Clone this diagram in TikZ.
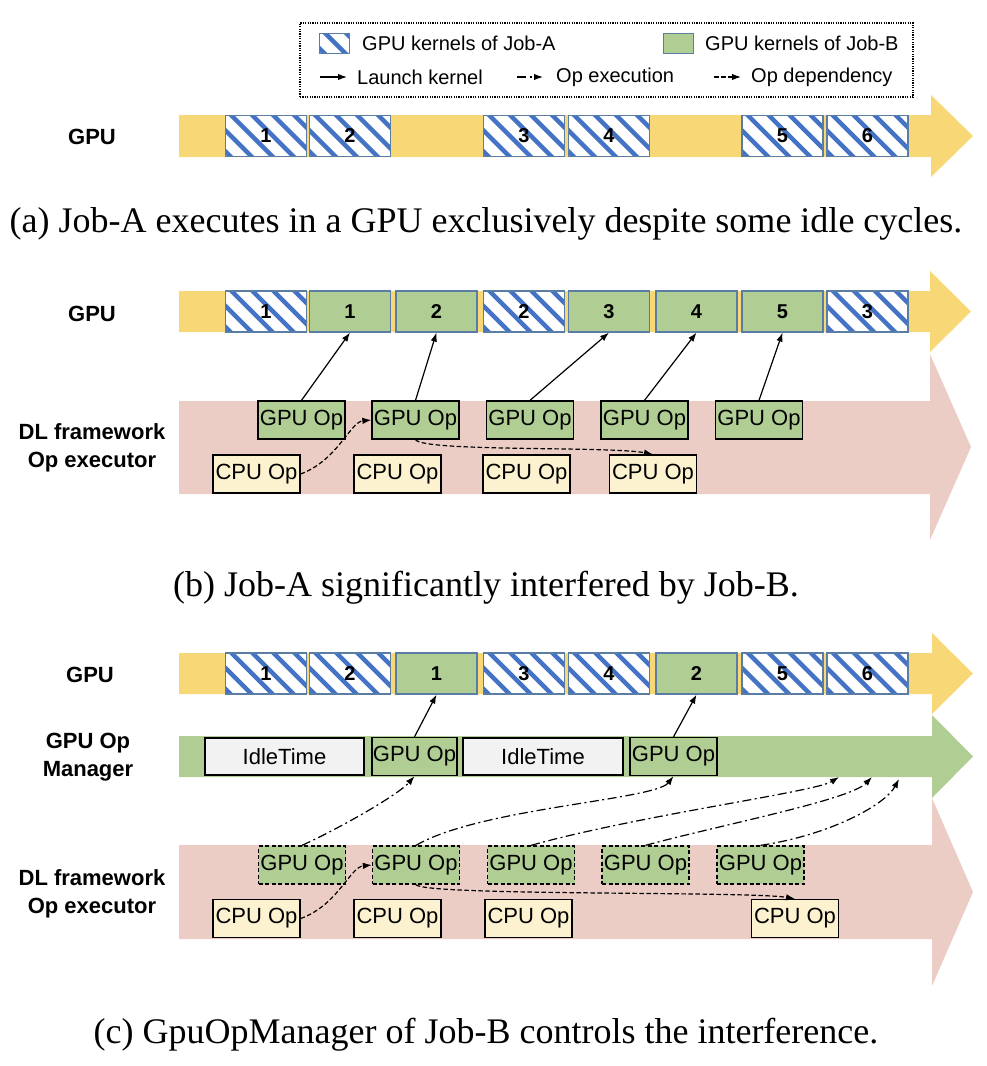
\documentclass[tikz,border=0pt]{standalone}
\usepackage{fontspec}
\setmainfont{Liberation Serif}
\setsansfont{Liberation Sans}
\usetikzlibrary{arrows.meta,calc}
\definecolor{barY}{HTML}{F8D776}
\definecolor{barP}{HTML}{ECCDC5}
\definecolor{barG}{HTML}{B0CE94}
\definecolor{kgreen}{HTML}{B0CE94}
\definecolor{kborder}{HTML}{5A7DA6}
\definecolor{hblue}{HTML}{4472C4}
\definecolor{cpuY}{HTML}{FDF2CF}
\definecolor{idleG}{HTML}{F2F2F2}
\newcommand\boxfont{\sffamily\fontsize{22}{24}\selectfont}
\newcommand\numfont{\sffamily\bfseries\fontsize{20}{22}\selectfont}
\newcommand\labfont{\sffamily\bfseries\fontsize{22}{28}\selectfont}
\newcommand\legfont{\sffamily\fontsize{20}{22}\selectfont}
\newcommand\capfont{\rmfamily\fontsize{36}{40}\selectfont}
\tikzset{
  hatchfill/.style={path picture={
    \foreach \i in {-3,...,5}{
      \draw[hblue,line width=4.5pt] ([xshift=\i*21pt-4pt,yshift=10pt]path picture bounding box.north west) -- ++(70pt,-70pt);
    }}},
  kern/.style={draw=kborder,line width=1.2pt,minimum width=81pt,minimum height=41pt,inner sep=0pt,font=\numfont},
  kA/.style={kern,fill=white,hatchfill},
  kB/.style={kern,fill=kgreen},
  opbox/.style={draw=black,line width=1.3pt,minimum width=87pt,minimum height=38pt,inner sep=0pt,font=\boxfont},
  gop/.style={opbox,fill=kgreen},
  gopd/.style={opbox,fill=kgreen,dash pattern=on 4pt off 2.5pt},
  cop/.style={opbox,fill=cpuY},
  idle/.style={opbox,fill=idleG,minimum width=159pt,minimum height=37pt},
  launch/.style={-{Latex[length=9pt,width=6.5pt]},line width=1.2pt},
  execl/.style={launch,dash pattern=on 9pt off 3.5pt on 2pt off 3.5pt},
  depl/.style={launch,dash pattern=on 4.5pt off 2.5pt},
  rowlabel/.style={font=\labfont,align=center,inner sep=0pt},
  legtext/.style={font=\legfont,anchor=west,inner sep=0pt},
  legframe/.style={draw=black,line width=1.2pt,dash pattern=on 1.2pt off 1.2pt,minimum width=613pt,minimum height=74pt,inner sep=0pt},
  caption/.style={font=\capfont,anchor=base,inner sep=0pt}
}
\begin{document}
\begin{tikzpicture}[x=1pt,y=-1pt]
\useasboundingbox (0,0) rectangle (986,1066);
% ---------------- legend
\node[legframe] (legend) at (606.5,60) {};
\node[kA,minimum width=30pt,minimum height=20pt,line width=1pt] (swA) at (334,43) {};
\node[legtext] (ltA) at (362,43) {GPU kernels of Job-A};
\node[kB,minimum width=30pt,minimum height=20pt,line width=1pt] (swB) at (678,43) {};
\node[legtext] (ltB) at (705,43) {GPU kernels of Job-B};
\coordinate (l1s) at (320,77); \coordinate (l1e) at (347,77);
\coordinate (l2s) at (517,77); \coordinate (l2e) at (543,77);
\coordinate (l3s) at (714,77); \coordinate (l3e) at (741,77);
\draw[launch] (l1s) -- (l1e);
\draw[execl] (l2s) -- (l2e);
\draw[depl] (l3s) -- (l3e);
\node[legtext] (lt1) at (357,77) {Launch kernel};
\node[legtext] (lt2) at (556,77) {Op execution};
\node[legtext] (lt3) at (751,77) {Op dependency};
% ---------------- (a)
\fill[barY] (179,115) -- (931,115) -- (931,95) -- (973,136) -- (931,177) -- (931,157) -- (179,157) -- cycle;
\node[rowlabel] (la) at (92,137) {GPU};
\node[kA] (a1) at (266,136) {1};
\node[kA] (a2) at (350,136) {2};
\node[kA] (a3) at (524,136) {3};
\node[kA] (a4) at (609,136) {4};
\node[kA] (a5) at (782.5,136) {5};
\node[kA] (a6) at (867.5,136) {6};
\node[caption] (capa) at (486,232) {(a) Job-A executes in a GPU exclusively despite some idle cycles.};
% ---------------- (b)
\fill[barY] (179,291) -- (930,291) -- (930,271) -- (971,311.5) -- (930,352) -- (930,332) -- (179,332) -- cycle;
\fill[barP] (179,401) -- (930,401) -- (930,354) -- (971,447) -- (930,540) -- (930,494) -- (179,494) -- cycle;
\node[rowlabel] (lbg) at (92,314) {GPU};
\node[rowlabel] (lbf) at (92,448) {DL framework\\Op executor};
\node[kA] (b1) at (266,311.5) {1};
\node[kB] (b2) at (350,311.5) {1};
\node[kB] (b3) at (436.5,311.5) {2};
\node[kA] (b4) at (524,311.5) {2};
\node[kB] (b5) at (609,311.5) {3};
\node[kB] (b6) at (696.5,311.5) {4};
\node[kB] (b7) at (782.5,311.5) {5};
\node[kA] (b8) at (867.5,311.5) {3};
\node[gop] (bg1) at (301.5,420) {GPU Op};
\node[gop] (bg2) at (415.5,420) {GPU Op};
\node[gop] (bg3) at (530,420) {GPU Op};
\node[gop] (bg4) at (644.5,420) {GPU Op};
\node[gop] (bg5) at (759,420) {GPU Op};
\node[cop] (bc1) at (256.5,474) {CPU Op};
\node[cop] (bc2) at (397.5,474) {CPU Op};
\node[cop] (bc3) at (526.5,474) {CPU Op};
\node[cop] (bc4) at (653,474) {CPU Op};
\draw[launch] (bg1.north) -- (b2.south);
\draw[launch] (bg2.north) -- (b3.south);
\draw[launch] (bg3.north) -- (b5.south);
\draw[launch] (bg4.north) -- (b6.south);
\draw[launch] (bg5.north) -- (b7.south);
\draw[depl] (bc1.east) .. controls (338,460) and (350,422) .. (bg2.west);
\draw[depl] (bg2.south) .. controls (424,452) and (610,446) .. (bc4.north);
\node[caption] (capb) at (486,596) {(b) Job-A significantly interfered by Job-B.};
% ---------------- (c)
\fill[barY] (179,653) -- (932,653) -- (932,633) -- (973,673.5) -- (932,714) -- (932,694) -- (179,694) -- cycle;
\fill[barP] (179,845) -- (932,845) -- (932,798) -- (973,892) -- (932,986) -- (932,939) -- (179,939) -- cycle;
\fill[barG] (179,736) -- (932,736) -- (932,715) -- (973,756.5) -- (932,798) -- (932,777) -- (179,777) -- cycle;
\node[rowlabel] (lcg) at (90,675) {GPU};
\node[rowlabel] (lcm) at (88,757) {GPU Op\\Manager};
\node[rowlabel] (lcf) at (92,894) {DL framework\\Op executor};
\node[kA] (c1) at (266,673.5) {1};
\node[kA] (c2) at (350,673.5) {2};
\node[kB] (c3) at (436.5,673.5) {1};
\node[kA] (c4) at (524,673.5) {3};
\node[kA] (c5) at (609,673.5) {4};
\node[kB] (c6) at (696.5,673.5) {2};
\node[kA] (c7) at (782.5,673.5) {5};
\node[kA] (c8) at (867.5,673.5) {6};
\node[idle] (mi1) at (284.5,756.5) {IdleTime};
\node[gop,minimum width=85pt] (mg1) at (414.5,756.5) {GPU Op};
\node[idle,minimum width=160pt] (mi2) at (543,756.5) {IdleTime};
\node[gop] (mg2) at (673.5,756.5) {GPU Op};
\node[gopd] (fg1) at (302,865) {GPU Op};
\node[gopd] (fg2) at (416,865) {GPU Op};
\node[gopd] (fg3) at (531,865) {GPU Op};
\node[gopd] (fg4) at (645.5,865) {GPU Op};
\node[gopd] (fg5) at (760.5,865) {GPU Op};
\node[cop] (fc1) at (256.5,918.5) {CPU Op};
\node[cop] (fc2) at (397.5,918.5) {CPU Op};
\node[cop] (fc3) at (528.5,918.5) {CPU Op};
\node[cop] (fc4) at (795,918.5) {CPU Op};
\coordinate (e1) at (839,777);
\coordinate (e2) at (872,777);
\coordinate (e3) at (899,779);
\draw[launch] (mg1.north) -- (c3.south);
\draw[launch] (mg2.north) -- (c6.south);
\draw[execl] (fg1.north) .. controls (340,828) and (398,795) .. (mg1.south);
\draw[execl] (fg2.north) .. controls (480,808) and (655,800) .. (mg2.south);
\draw[execl] (fg3.north) .. controls (640,815) and (815,792) .. (e1);
\draw[execl] (fg4.north) .. controls (720,825) and (850,800) .. (e2);
\draw[execl] (fg5.north) .. controls (830,835) and (885,805) .. (e3);
\draw[depl] (fc1.east) .. controls (338,905) and (350,867) .. (fg2.west);
\draw[depl] (fg2.south) .. controls (424,896) and (750,891) .. (fc4.north);
\node[caption] (capc) at (486,1043) {(c) GpuOpManager of Job-B controls the interference.};
\end{tikzpicture}
\end{document}
